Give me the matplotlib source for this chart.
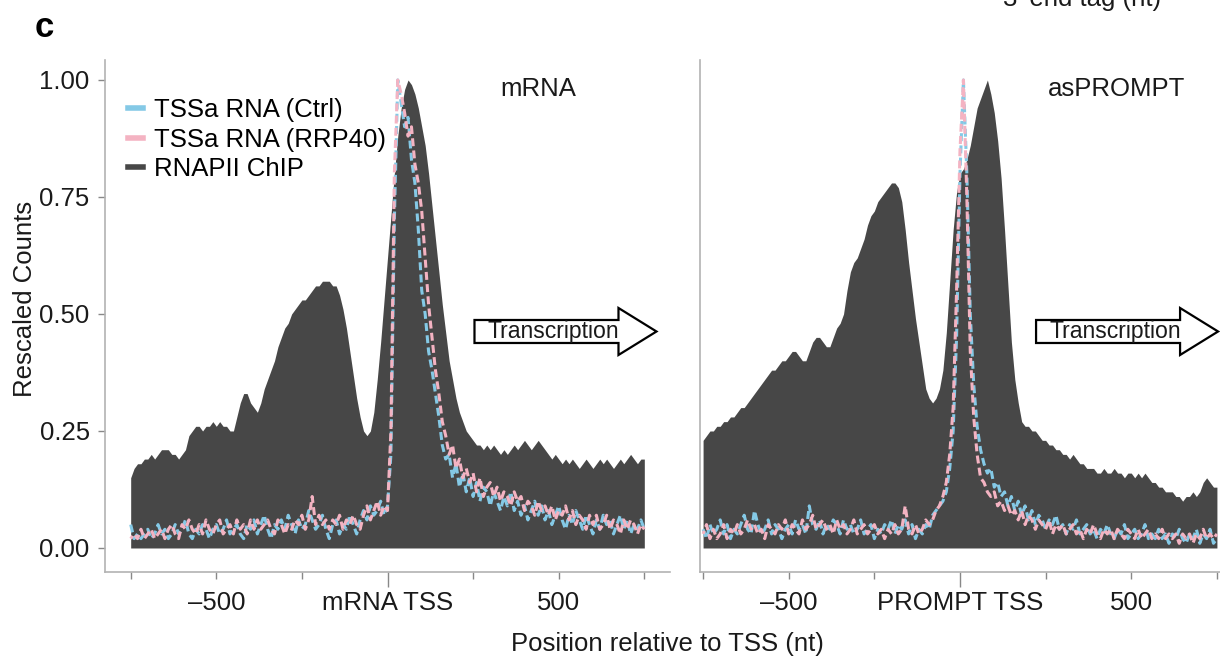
import numpy as np
import matplotlib
matplotlib.use("Agg")
import matplotlib.pyplot as plt
from matplotlib.lines import Line2D
from matplotlib.patches import Polygon

plt.rcParams['font.family'] = ['Liberation Sans', 'DejaVu Sans']

# position relative to TSS (nt), one value every 10 nt
positions = np.arange(-750, 751, 10)

# ---- mRNA panel ----
mrna_chip = [
    0.15, 0.17, 0.18, 0.18, 0.19, 0.19, 0.20, 0.19, 0.20, 0.21,   # -750
    0.21, 0.21, 0.20, 0.20, 0.19, 0.20, 0.21, 0.24, 0.25, 0.26,   # -650
    0.26, 0.25, 0.26, 0.26, 0.27, 0.26, 0.27, 0.26, 0.26, 0.25,   # -550
    0.25, 0.28, 0.31, 0.33, 0.33, 0.31, 0.30, 0.29, 0.31, 0.34,   # -450
    0.36, 0.38, 0.40, 0.43, 0.45, 0.47, 0.48, 0.50, 0.51, 0.52,   # -350
    0.53, 0.53, 0.54, 0.55, 0.56, 0.56, 0.57, 0.57, 0.57, 0.56,   # -250
    0.56, 0.54, 0.51, 0.47, 0.42, 0.37, 0.32, 0.28, 0.25, 0.24,   # -150
    0.25, 0.29, 0.36, 0.44, 0.53, 0.62, 0.71, 0.80, 0.88, 0.94,   # -50
    0.98, 1.00, 0.99, 0.97, 0.94, 0.90, 0.86, 0.80, 0.73, 0.66,   # 50
    0.59, 0.52, 0.46, 0.40, 0.36, 0.32, 0.29, 0.27, 0.25, 0.24,   # 150
    0.23, 0.22, 0.22, 0.21, 0.22, 0.21, 0.22, 0.21, 0.20, 0.21,   # 250
    0.20, 0.21, 0.22, 0.21, 0.22, 0.23, 0.22, 0.21, 0.22, 0.23,   # 350
    0.22, 0.21, 0.20, 0.19, 0.20, 0.19, 0.18, 0.19, 0.18, 0.19,   # 450
    0.18, 0.17, 0.18, 0.19, 0.18, 0.17, 0.18, 0.19, 0.18, 0.19,   # 550
    0.18, 0.17, 0.18, 0.19, 0.18, 0.19, 0.20, 0.19, 0.18, 0.19,   # 650
    0.19]
mrna_ctrl = [
    0.05, 0.02, 0.03, 0.02, 0.03, 0.04, 0.02, 0.03, 0.05, 0.03,
    0.04, 0.02, 0.03, 0.05, 0.03, 0.04, 0.06, 0.03, 0.02, 0.04,
    0.03, 0.05, 0.04, 0.02, 0.04, 0.05, 0.03, 0.04, 0.06, 0.03,
    0.04, 0.05, 0.03, 0.02, 0.05, 0.04, 0.06, 0.03, 0.05, 0.07,
    0.04, 0.02, 0.05, 0.04, 0.06, 0.04, 0.07, 0.05, 0.03, 0.06,
    0.04, 0.05, 0.08, 0.06, 0.04, 0.05, 0.07, 0.04, 0.02, 0.05,
    0.06, 0.03, 0.05, 0.04, 0.07, 0.05, 0.03, 0.06, 0.08, 0.06,
    0.09, 0.07, 0.08, 0.10, 0.07, 0.09, 0.20, 0.70, 1.00, 0.95,
    0.90, 0.92, 0.83, 0.78, 0.68, 0.55, 0.50, 0.42, 0.38, 0.33,
    0.28, 0.22, 0.19, 0.20, 0.15, 0.18, 0.13, 0.16, 0.12, 0.15,
    0.11, 0.14, 0.10, 0.13, 0.12, 0.09, 0.12, 0.10, 0.08, 0.11,
    0.09, 0.12, 0.08, 0.10, 0.07, 0.09, 0.06, 0.08, 0.10, 0.07,
    0.09, 0.06, 0.08, 0.05, 0.07, 0.09, 0.06, 0.04, 0.07, 0.05,
    0.08, 0.06, 0.04, 0.07, 0.05, 0.03, 0.06, 0.04, 0.07, 0.05,
    0.06, 0.03, 0.05, 0.07, 0.04, 0.06, 0.03, 0.05, 0.04, 0.06,
    0.04]
mrna_rrp40 = [
    0.02, 0.03, 0.02, 0.04, 0.02, 0.03, 0.04, 0.02, 0.03, 0.04,
    0.02, 0.04, 0.05, 0.03, 0.02, 0.05, 0.04, 0.06, 0.04, 0.03,
    0.05, 0.03, 0.06, 0.04, 0.03, 0.05, 0.06, 0.03, 0.04, 0.05,
    0.03, 0.06, 0.04, 0.05, 0.03, 0.06, 0.04, 0.06, 0.04, 0.05,
    0.06, 0.04, 0.03, 0.06, 0.05, 0.03, 0.05, 0.04, 0.06, 0.05,
    0.07, 0.04, 0.06, 0.11, 0.05, 0.07, 0.05, 0.06, 0.04, 0.06,
    0.05, 0.07, 0.04, 0.06, 0.05, 0.07, 0.05, 0.04, 0.07, 0.09,
    0.06, 0.08, 0.10, 0.07, 0.09, 0.08, 0.25, 0.80, 1.00, 0.97,
    0.93, 0.88, 0.90, 0.82, 0.78, 0.72, 0.62, 0.52, 0.45, 0.38,
    0.33, 0.27, 0.24, 0.20, 0.22, 0.17, 0.19, 0.15, 0.17, 0.14,
    0.16, 0.12, 0.15, 0.11, 0.13, 0.14, 0.11, 0.13, 0.10, 0.12,
    0.11, 0.09, 0.12, 0.10, 0.11, 0.08, 0.10, 0.09, 0.07, 0.10,
    0.08, 0.09, 0.07, 0.09, 0.06, 0.08, 0.07, 0.09, 0.06, 0.08,
    0.05, 0.07, 0.06, 0.04, 0.07, 0.05, 0.07, 0.04, 0.05, 0.07,
    0.04, 0.06, 0.05, 0.03, 0.06, 0.04, 0.06, 0.05, 0.03, 0.05,
    0.04]

# ---- asPROMPT panel ----
prompt_chip = [
    0.23, 0.24, 0.25, 0.25, 0.26, 0.26, 0.27, 0.27, 0.28, 0.28,
    0.29, 0.30, 0.30, 0.31, 0.32, 0.33, 0.34, 0.35, 0.36, 0.37,
    0.38, 0.38, 0.39, 0.40, 0.40, 0.41, 0.42, 0.42, 0.41, 0.40,
    0.40, 0.42, 0.44, 0.45, 0.45, 0.44, 0.43, 0.43, 0.45, 0.47,
    0.48, 0.50, 0.55, 0.59, 0.61, 0.62, 0.64, 0.66, 0.69, 0.71,
    0.72, 0.74, 0.75, 0.76, 0.77, 0.78, 0.78, 0.77, 0.74, 0.68,
    0.61, 0.55, 0.49, 0.44, 0.39, 0.34, 0.32, 0.31, 0.32, 0.34,
    0.38, 0.46, 0.57, 0.68, 0.76, 0.80, 0.81, 0.83, 0.86, 0.90,
    0.94, 0.96, 0.98, 1.00, 0.97, 0.93, 0.87, 0.79, 0.68, 0.56,
    0.44, 0.36, 0.31, 0.27, 0.26, 0.26, 0.25, 0.25, 0.24, 0.23,
    0.23, 0.22, 0.22, 0.21, 0.21, 0.20, 0.20, 0.19, 0.20, 0.19,
    0.18, 0.18, 0.17, 0.17, 0.17, 0.16, 0.16, 0.17, 0.16, 0.16,
    0.17, 0.16, 0.16, 0.15, 0.16, 0.16, 0.15, 0.16, 0.15, 0.16,
    0.15, 0.14, 0.14, 0.13, 0.13, 0.12, 0.12, 0.12, 0.11, 0.11,
    0.10, 0.11, 0.11, 0.12, 0.11, 0.12, 0.14, 0.15, 0.14, 0.13,
    0.13]
prompt_ctrl = [
    0.04, 0.02, 0.05, 0.03, 0.04, 0.06, 0.03, 0.05, 0.02, 0.04,
    0.03, 0.05, 0.07, 0.04, 0.03, 0.08, 0.05, 0.03, 0.04, 0.06,
    0.03, 0.05, 0.04, 0.02, 0.04, 0.05, 0.03, 0.06, 0.04, 0.05,
    0.03, 0.09, 0.05, 0.04, 0.06, 0.03, 0.05, 0.04, 0.06, 0.05,
    0.03, 0.06, 0.04, 0.05, 0.03, 0.04, 0.06, 0.03, 0.04, 0.05,
    0.02, 0.04, 0.03, 0.05, 0.04, 0.06, 0.03, 0.05, 0.04, 0.06,
    0.03, 0.05, 0.02, 0.04, 0.03, 0.05, 0.04, 0.07, 0.08, 0.09,
    0.10, 0.12, 0.17, 0.25, 0.45, 0.80, 1.00, 0.80, 0.50, 0.35,
    0.26, 0.21, 0.18, 0.16, 0.17, 0.13, 0.14, 0.11, 0.12, 0.09,
    0.11, 0.08, 0.10, 0.07, 0.09, 0.06, 0.08, 0.05, 0.07, 0.06,
    0.04, 0.06, 0.05, 0.07, 0.04, 0.05, 0.03, 0.05, 0.04, 0.06,
    0.03, 0.04, 0.05, 0.03, 0.04, 0.02, 0.04, 0.03, 0.05, 0.03,
    0.02, 0.04, 0.03, 0.05, 0.02, 0.03, 0.04, 0.02, 0.03, 0.05,
    0.02, 0.03, 0.02, 0.04, 0.02, 0.03, 0.01, 0.03, 0.02, 0.04,
    0.02, 0.01, 0.03, 0.02, 0.04, 0.01, 0.03, 0.02, 0.04, 0.01,
    0.02]
prompt_rrp40 = [
    0.03, 0.05, 0.02, 0.04, 0.02, 0.03, 0.05, 0.02, 0.04, 0.03,
    0.05, 0.03, 0.04, 0.06, 0.04, 0.05, 0.03, 0.04, 0.02, 0.05,
    0.04, 0.03, 0.05, 0.04, 0.06, 0.03, 0.05, 0.04, 0.03, 0.06,
    0.04, 0.05, 0.07, 0.04, 0.05, 0.06, 0.04, 0.05, 0.03, 0.06,
    0.04, 0.05, 0.03, 0.04, 0.06, 0.03, 0.04, 0.05, 0.03, 0.04,
    0.05, 0.03, 0.04, 0.02, 0.04, 0.03, 0.05, 0.03, 0.04, 0.09,
    0.04, 0.03, 0.05, 0.03, 0.04, 0.06, 0.05, 0.06, 0.08, 0.09,
    0.11, 0.14, 0.20, 0.30, 0.55, 0.85, 1.00, 0.75, 0.42, 0.28,
    0.20, 0.15, 0.14, 0.12, 0.11, 0.12, 0.09, 0.10, 0.08, 0.09,
    0.07, 0.08, 0.06, 0.08, 0.05, 0.07, 0.06, 0.04, 0.06, 0.05,
    0.04, 0.06, 0.03, 0.05, 0.04, 0.05, 0.03, 0.04, 0.05, 0.03,
    0.04, 0.02, 0.04, 0.03, 0.05, 0.03, 0.02, 0.04, 0.03, 0.04,
    0.02, 0.04, 0.03, 0.02, 0.04, 0.03, 0.02, 0.04, 0.02, 0.03,
    0.04, 0.02, 0.03, 0.02, 0.04, 0.02, 0.03, 0.02, 0.03, 0.01,
    0.03, 0.02, 0.03, 0.01, 0.03, 0.02, 0.04, 0.02, 0.03, 0.02,
    0.03]

series_labels = ['TSSa RNA (Ctrl)', 'TSSa RNA (RRP40)', 'RNAPII ChIP']
tick_pos = [-750, -500, -250, 0, 250, 500, 750]

CHIP = '#474747'
CTRL = '#84c9e6'
RRP = '#f4b3c2'
FS = 18.5

W, H = 1220, 656
fig = plt.figure(figsize=(W / 100, H / 100), dpi=100)


def px(x0, y0, x1, y1):
    # pixel box (from top-left) -> figure rect
    return [x0 / W, 1 - y1 / H, (x1 - x0) / W, (y1 - y0) / H]


ax1 = fig.add_axes(px(105, 60, 670, 572))
ax2 = fig.add_axes(px(700, 60, 1220, 572))

panels = [
    (ax1, mrna_chip, mrna_ctrl, mrna_rrp40, 'mRNA', 'mRNA TSS', (-825, 825), 440, 292),
    (ax2, prompt_chip, prompt_ctrl, prompt_rrp40, 'asPROMPT', 'PROMPT TSS', (-759, 759), 458, 260),
]

for ax, chip, ctrl, rrp, title, tss, xlim, tx, arr_x in panels:
    assert len(chip) == len(ctrl) == len(rrp) == len(positions)
    ax.fill_between(positions, 0, chip, color=CHIP, lw=0, zorder=1)
    ax.plot(positions, ctrl, color=CTRL, lw=2.2, ls=(0, (2.6, 1.4)), zorder=2)
    ax.plot(positions, rrp, color=RRP, lw=2.2, ls=(1.5, (2.6, 1.4)), zorder=3)

    ax.set_xlim(*xlim)
    ax.set_ylim(-0.0513, 1.0427)
    for s in ['top', 'right']:
        ax.spines[s].set_visible(False)
    for s in ['left', 'bottom']:
        ax.spines[s].set_color('#b3b3b3')
        ax.spines[s].set_linewidth(1.2)

    ax.set_xticks(tick_pos)
    ax.set_xticklabels(['', '\u2013500', '', tss, '', '500', ''])
    ax.tick_params(axis='x', length=5, width=1, color='#888888', pad=9,
                   labelsize=FS, labelcolor='#1a1a1a')
    ax.xaxis.get_major_ticks()[3].tick1line.set_markersize(11)

    ax.text(tx, 0.98, title, ha='center', va='center', fontsize=FS, color='#1a1a1a')

    # "Transcription" arrow (pixel sizes converted to data units)
    sx = (xlim[1] - xlim[0]) / (ax.get_position().width * W)
    sy = 1.094 / 512
    x0 = arr_x - 13 * sx
    x1 = x0 + 144 * sx
    xt = x1 + 38 * sx
    yc = 0.4626
    hb, hh = 11.5 * sy, 23.5 * sy
    arrow = Polygon([(x0, yc - hb), (x1, yc - hb), (x1, yc - hh), (xt, yc),
                     (x1, yc + hh), (x1, yc + hb), (x0, yc + hb)],
                    closed=True, fc='white', ec='black', lw=1.6, clip_on=False, zorder=5)
    ax.add_patch(arrow)
    ax.text(arr_x, yc, 'Transcription', ha='left', va='center', fontsize=16.6,
            color='#1a1a1a', zorder=6)

ax1.set_yticks([0, 0.25, 0.5, 0.75, 1.0])
ax1.set_yticklabels(['0.00', '0.25', '0.50', '0.75', '1.00'])
ax1.tick_params(axis='y', length=5, width=1, color='#888888', pad=6,
                labelsize=FS, labelcolor='#1a1a1a')
ax2.set_yticks([])

handles = [Line2D([], [], color=CTRL, lw=4),
           Line2D([], [], color=RRP, lw=4),
           Line2D([], [], color=CHIP, lw=4)]
fig.legend(handles, series_labels, loc='upper left',
           bbox_to_anchor=(128 / W, 1 - 98 / H), bbox_transform=fig.transFigure,
           frameon=False, fontsize=FS, handlelength=0.6, handletextpad=0.4,
           borderpad=0, borderaxespad=0, labelspacing=0.22)

fig.text(25 / W, 1 - 299 / H, 'Rescaled Counts', rotation=90, ha='center', va='center',
         fontsize=FS, color='#1a1a1a')
fig.text(667 / W, 1 - 644 / H, 'Position relative to TSS (nt)', ha='center', va='center',
         fontsize=FS, color='#1a1a1a')
fig.text(35 / W, 1 - 37 / H, 'c', fontsize=25, fontweight='bold', ha='left', va='baseline')
fig.text(1082 / W, 1 - 6 / H, "3\u2032 end tag (nt)", ha='center', va='baseline',
         fontsize=FS, color='#1a1a1a')

fig.savefig('out.png', dpi=100)
